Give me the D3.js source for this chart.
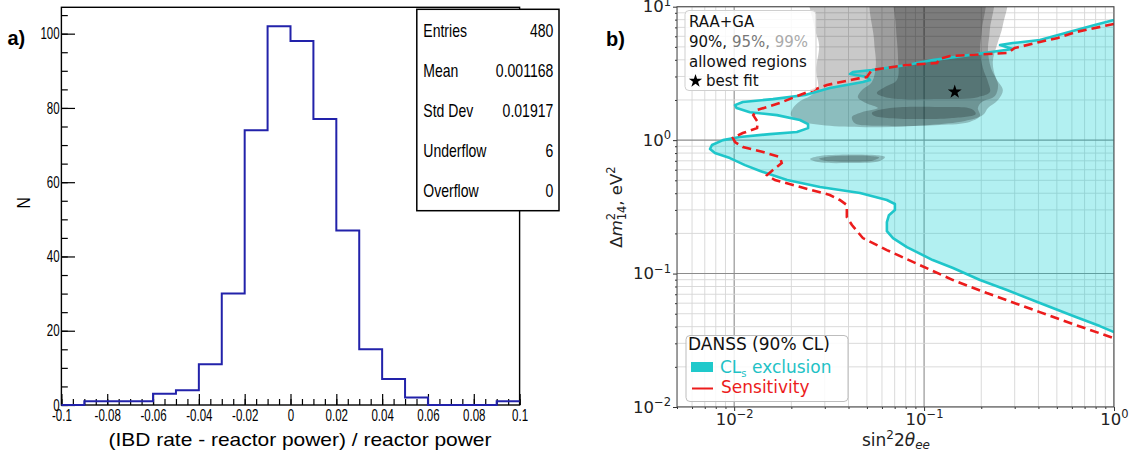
<!DOCTYPE html>
<html>
<head>
<meta charset="utf-8">
<script src="https://cdn.jsdelivr.net/npm/d3@7"></script>
<style>
body { margin: 0; background: #fff; }
svg { display: block; }
</style>
</head>
<body>
<div id="container"></div>
<script>
// ---------- panel a data (histogram)
let binLow = [-0.1, -0.09, -0.08, -0.07, -0.06, -0.05, -0.04, -0.03, -0.02, -0.01,
    0, 0.01, 0.02, 0.03, 0.04, 0.05, 0.06, 0.07, 0.08, 0.09];
let binCounts = [0, 1, 1, 1, 3, 4, 11, 30, 74, 102, 98, 77, 47, 15, 7, 2, 0, 0, 0, 1];
let histXTicks = [-0.1, -0.08, -0.06, -0.04, -0.02, 0, 0.02, 0.04, 0.06, 0.08, 0.1];
let histXLabels = ['-0.1', '-0.08', '-0.06', '-0.04', '-0.02', '0', '0.02', '0.04', '0.06', '0.08', '0.1'];
let histYTicks = [0, 20, 40, 60, 80, 100];
let statNames = ['Entries', 'Mean', 'Std Dev', 'Underflow', 'Overflow'];
let statValues = ['480', '0.001168', '0.01917', '6', '0'];

// ---------- panel b data (sin^2 2theta, dm^2)
let clsContour = [[1.0, 7.95], [0.792, 7.29], [0.407, 5.63], [0.293, 5.34], [0.251, 5.16], [0.293, 4.82],
    [0.111, 3.98], [0.0812, 3.66], [0.0531, 3.35], [0.0422, 3.24], [0.0407, 3.13], [0.050, 2.97],
    [0.0519, 2.82], [0.0476, 2.73], [0.0319, 2.46], [0.0236, 2.18], [0.016, 2.03], [0.0111, 1.93],
    [0.0101, 1.83], [0.0103, 1.74], [0.0121, 1.62], [0.0168, 1.54], [0.0222, 1.415], [0.0245, 1.32],
    [0.0245, 1.23], [0.0214, 1.15], [0.0154, 1.11], [0.0107, 1.055], [0.00873, 1.0], [0.00764, 0.919],
    [0.00746, 0.858], [0.00792, 0.80], [0.0095, 0.734], [0.0114, 0.65], [0.0137, 0.587], [0.019, 0.502],
    [0.0283, 0.445], [0.046, 0.401], [0.0637, 0.356], [0.0702, 0.332], [0.0702, 0.299], [0.0653, 0.274],
    [0.0637, 0.243], [0.0637, 0.208], [0.0686, 0.1845], [0.0812, 0.158], [0.111, 0.1262], [0.142, 0.110],
    [0.197, 0.0894], [0.273, 0.0752], [0.407, 0.0601], [0.63, 0.0472], [0.842, 0.0404], [1.0, 0.0364]];

let sensContour = [[1.0, 7.42], [0.63, 6.46], [0.506, 5.83], [0.407, 5.44], [0.30, 4.90], [0.276, 4.50],
    [0.137, 4.27], [0.12, 4.06], [0.117, 3.78], [0.0812, 3.66], [0.0531, 3.35], [0.05, 2.97], [0.046, 2.92],
    [0.0308, 2.59], [0.0222, 2.18], [0.0174, 1.90], [0.0132, 1.68], [0.0126, 1.54], [0.0133, 1.37],
    [0.0132, 1.23], [0.0111, 1.13], [0.00985, 1.04], [0.0101, 0.968], [0.0111, 0.888], [0.0142, 0.814],
    [0.0174, 0.747], [0.0178, 0.673], [0.016, 0.597], [0.0149, 0.547], [0.0164, 0.502], [0.0204, 0.461],
    [0.0319, 0.388], [0.036, 0.356], [0.0392, 0.326], [0.0392, 0.265], [0.0417, 0.231], [0.0476, 0.1845],
    [0.0637, 0.150], [0.095, 0.1158], [0.142, 0.0894], [0.214, 0.0714], [0.407, 0.0514], [0.63, 0.0411],
    [1.0, 0.0328]];

let region99 = [
    [[0.0257, 14], [0.266, 14], [0.26, 7.29], [0.242, 5.16], [0.23, 3.85], [0.239, 2.92], [0.26, 2.37],
     [0.245, 2.0], [0.217, 1.74], [0.204, 1.54], [0.164, 1.39], [0.107, 1.30], [0.0585, 1.25], [0.0319, 1.28],
     [0.0222, 1.39], [0.0199, 1.54], [0.0204, 1.74], [0.0222, 1.96], [0.0251, 2.14], [0.0276, 2.46],
     [0.027, 3.35], [0.028, 5.16], [0.0263, 7.29]],
    [[0.0251, 0.722], [0.0283, 0.760], [0.0388, 0.780], [0.0551, 0.773], [0.0622, 0.747], [0.0585, 0.697],
     [0.0388, 0.673], [0.0276, 0.685]]
];
let region95 = [
    [[0.0545, 14], [0.225, 14], [0.222, 6.69], [0.217, 4.74], [0.225, 3.47], [0.245, 2.63], [0.236, 2.14],
     [0.2015, 1.93], [0.192, 1.74], [0.197, 1.52], [0.174, 1.37], [0.121, 1.30], [0.0585, 1.28], [0.0432, 1.34],
     [0.0417, 1.49], [0.047, 1.62], [0.0571, 1.74], [0.0494, 1.90], [0.0448, 2.10], [0.047, 2.37],
     [0.0531, 2.73], [0.0557, 3.66], [0.0545, 5.63]],
    [[0.028, 0.725], [0.031, 0.752], [0.0388, 0.765], [0.052, 0.76], [0.058, 0.74], [0.054, 0.705],
     [0.0388, 0.69], [0.030, 0.70]]
];
let region90 = [
    [[0.0719, 14], [0.204, 14], [0.2015, 6.69], [0.197, 4.74], [0.204, 3.47], [0.217, 2.73], [0.222, 2.29],
     [0.192, 2.10], [0.121, 2.03], [0.066, 2.07], [0.0564, 2.25], [0.0622, 2.50], [0.0719, 2.82],
     [0.0728, 4.35], [0.071, 7.29]],
    [[0.0531, 1.60], [0.066, 1.74], [0.121, 1.77], [0.178, 1.71], [0.187, 1.57], [0.137, 1.46],
     [0.066, 1.46], [0.0545, 1.52]]
];
let bestFit = [0.145, 2.3];
let xDecades = [0.01, 0.1, 1];
let xDecadeExp = ['\u22122', '\u22121', '0'];
let yDecades = [0.01, 0.1, 1, 10];
let yDecadeExp = ['\u22122', '\u22121', '0', '1'];

let width = 1137;
let height = 455;
let rootFont = 'Liberation Sans, Arial, Helvetica, sans-serif';
let mplFont = 'DejaVu Sans, sans-serif';

let svg = d3.select('#container')
    .append('svg')
    .attr('width', width)
    .attr('height', height);

// ================= panel a =================
let xA = d3.scaleLinear().domain([-0.1, 0.1]).range([61.4, 519.6]);
let yA = d3.scaleLinear().domain([0, 107.1]).range([405, 7.3]);

function narrow(g, x, y, str, size, sx, anchor) {
    return g.append('text')
        .attr('transform', `translate(${x},${y}) scale(${sx},1)`)
        .attr('text-anchor', anchor || 'start')
        .attr('font-family', rootFont)
        .attr('font-size', size)
        .attr('fill', '#000')
        .text(str);
}

let pa = svg.append('g');

// minor / major ticks (ROOT style, pointing inside)
pa.append('g').attr('transform', 'translate(0,405)')
    .call(d3.axisBottom(xA).tickValues(d3.range(-0.1, 0.1001, 0.005)).tickSize(-6).tickFormat(''))
    .call(g => g.select('.domain').remove());
let axA = pa.append('g').attr('transform', 'translate(0,405)')
    .call(d3.axisBottom(xA).tickValues(histXTicks).tickSize(-11).tickPadding(5)
        .tickFormat((d, i) => histXLabels[i]));
axA.select('.domain').remove();
axA.selectAll('text')
    .attr('font-family', rootFont).attr('font-size', 16).attr('fill', '#000')
    .attr('transform', 'scale(0.72,1)');

pa.append('g').attr('transform', 'translate(61.4,0)')
    .call(d3.axisLeft(yA).tickValues(d3.range(0, 106, 5)).tickSize(-6.4).tickFormat(''))
    .call(g => g.select('.domain').remove());
let ayA = pa.append('g').attr('transform', 'translate(61.4,0)')
    .call(d3.axisLeft(yA).tickValues(histYTicks).tickSize(-13.6).tickPadding(2.4));
ayA.select('.domain').remove();
ayA.selectAll('text')
    .attr('font-family', rootFont).attr('font-size', 16).attr('fill', '#000')
    .attr('transform', 'scale(0.72,1)');
pa.selectAll('.tick line').attr('stroke', '#000').attr('stroke-width', 1.2);

// frame
pa.append('rect')
    .attr('x', 61.4).attr('y', 7.3)
    .attr('width', 519.6 - 61.4).attr('height', 405 - 7.3)
    .attr('fill', 'none').attr('stroke', '#000').attr('stroke-width', 1.4);

// histogram outline
let histPts = binLow.map((x, i) => [x, binCounts[i]]).concat([[0.1, binCounts[binCounts.length - 1]]]);
pa.append('path')
    .datum(histPts)
    .attr('d', d3.line().x(d => xA(d[0])).y(d => yA(d[1])).curve(d3.curveStepAfter))
    .attr('fill', 'none')
    .attr('stroke', '#2222aa')
    .attr('stroke-width', 2);

// stats box
pa.append('rect')
    .attr('x', 416.8).attr('y', 9.3)
    .attr('width', 559 - 416.8).attr('height', 210.7 - 9.3)
    .attr('fill', '#fff').attr('stroke', '#000').attr('stroke-width', 1.5);
statNames.forEach((name, i) => {
    let y = 36.5 + i * 40.2;
    narrow(pa, 423.3, y, name, 18, 0.78, 'start');
    narrow(pa, 553.3, y, statValues[i], 18, 0.78, 'end');
});

// titles
pa.append('text')
    .attr('x', 300).attr('y', 446)
    .attr('text-anchor', 'middle')
    .attr('font-family', rootFont).attr('font-size', 18.6)
    .attr('textLength', 383).attr('lengthAdjust', 'spacingAndGlyphs')
    .text('(IBD rate - reactor power) / reactor power');
pa.append('text')
    .attr('transform', 'translate(30,203) rotate(-90) scale(0.82,1)')
    .attr('text-anchor', 'middle')
    .attr('font-family', rootFont).attr('font-size', 19)
    .text('N');
pa.append('text')
    .attr('x', 7.5).attr('y', 45)
    .attr('font-family', rootFont).attr('font-size', 20).attr('font-weight', 'bold')
    .text('a)');

// ================= panel b =================
let xB = d3.scaleLog().domain([0.005, 1]).range([677, 1114]);
let yB = d3.scaleLog().domain([0.01, 10]).range([407, 6.7]);
let pb = svg.append('g');

svg.append('clipPath').attr('id', 'clipB')
    .append('rect').attr('x', 677).attr('y', 6.7).attr('width', 1114 - 677).attr('height', 407 - 6.7);
let plot = pb.append('g').attr('clip-path', 'url(#clipB)');

// grid
let isDecade = v => Math.abs(Math.log10(v) - Math.round(Math.log10(v))) < 1e-6;
plot.selectAll('.xgrid').data(xB.ticks()).enter().append('line')
    .attr('x1', d => xB(d)).attr('x2', d => xB(d)).attr('y1', 6.7).attr('y2', 407)
    .attr('stroke', d => isDecade(d) ? '#8c8c8c' : '#d6d6d6')
    .attr('stroke-width', d => isDecade(d) ? 1.1 : 0.9);
plot.selectAll('.ygrid').data(yB.ticks()).enter().append('line')
    .attr('y1', d => yB(d)).attr('y2', d => yB(d)).attr('x1', 677).attr('x2', 1114)
    .attr('stroke', d => isDecade(d) ? '#8c8c8c' : '#d6d6d6')
    .attr('stroke-width', d => isDecade(d) ? 1.1 : 0.9);

let lineB = d3.line().x(d => xB(d[0])).y(d => yB(d[1]));
let blob = d3.line().x(d => xB(d[0])).y(d => yB(d[1])).curve(d3.curveCatmullRomClosed.alpha(0.5));

// CLs exclusion fill
plot.append('path')
    .attr('d', lineB(clsContour) + 'Z')
    .attr('fill', 'rgb(0,206,209)').attr('fill-opacity', 0.3);

// RAA+GA allowed regions
[region99, region95, region90].forEach(level => {
    plot.selectAll(null).data(level).enter().append('path')
        .attr('d', d => blob(d))
        .attr('fill', '#000').attr('fill-opacity', 0.21);
});

plot.append('path')
    .attr('d', lineB(clsContour))
    .attr('fill', 'none').attr('stroke', '#1fc6ca').attr('stroke-width', 2.6)
    .attr('stroke-linejoin', 'round');
plot.append('path')
    .attr('d', lineB(sensContour))
    .attr('fill', 'none').attr('stroke', '#ec1c1c').attr('stroke-width', 2.6)
    .attr('stroke-dasharray', '9,5');

plot.append('path')
    .attr('transform', `translate(${xB(bestFit[0])},${yB(bestFit[1])})`)
    .attr('d', d3.symbol(d3.symbolStar).size(60)())
    .attr('fill', '#000');

// axes
function decadeLabels(sel, exps) {
    sel.selectAll('text').text(null).each(function (d, i) {
        let t = d3.select(this)
            .attr('font-family', mplFont).attr('font-size', 16.5).attr('fill', '#222');
        t.append('tspan').text('10');
        t.append('tspan').attr('font-size', 11.5).attr('dy', -6.5).text(exps[i]);
    });
}
pb.append('g').attr('transform', 'translate(0,407)')
    .call(d3.axisBottom(xB).tickValues(xB.ticks().filter(d => !isDecade(d))).tickSize(2).tickFormat(''))
    .call(g => g.select('.domain').remove());
let axB = pb.append('g').attr('transform', 'translate(0,407)')
    .call(d3.axisBottom(xB).tickValues(xDecades).tickSize(4).tickPadding(2).tickFormat(''));
axB.select('.domain').remove();
decadeLabels(axB, xDecadeExp);

pb.append('g').attr('transform', 'translate(677,0)')
    .call(d3.axisLeft(yB).tickValues(yB.ticks().filter(d => !isDecade(d))).tickSize(2).tickFormat(''))
    .call(g => g.select('.domain').remove());
let ayB = pb.append('g').attr('transform', 'translate(677,0)')
    .call(d3.axisLeft(yB).tickValues(yDecades).tickSize(4).tickPadding(2).tickFormat(''));
ayB.select('.domain').remove();
decadeLabels(ayB, yDecadeExp);
pb.selectAll('.tick line').attr('stroke', '#333');

pb.append('rect')
    .attr('x', 677).attr('y', 6.7).attr('width', 1114 - 677).attr('height', 407 - 6.7)
    .attr('fill', 'none').attr('stroke', '#444').attr('stroke-width', 1);

// axis labels
let xl = pb.append('text')
    .attr('x', 896).attr('y', 446).attr('text-anchor', 'middle')
    .attr('font-family', mplFont).attr('font-size', 17).attr('fill', '#222');
xl.append('tspan').text('sin');
xl.append('tspan').attr('font-size', 12).attr('dy', -7).text('2');
xl.append('tspan').attr('dy', 7).text('2');
xl.append('tspan').attr('font-style', 'italic').text('\u03b8');
xl.append('tspan').attr('font-style', 'italic').attr('font-size', 12).attr('dy', 3).text('ee');

let yl = pb.append('text')
    .attr('transform', 'translate(622,207) rotate(-90)').attr('text-anchor', 'middle')
    .attr('font-family', mplFont).attr('font-size', 16.5).attr('fill', '#222');
yl.append('tspan').text('\u0394');
yl.append('tspan').attr('font-style', 'italic').text('m');
yl.append('tspan').attr('font-size', 11.5).attr('dy', -7).text('2');
yl.append('tspan').attr('font-size', 11.5).attr('dx', -7.3).attr('dy', 11).text('14');
yl.append('tspan').attr('dy', -4).text(', eV');
yl.append('tspan').attr('font-size', 11.5).attr('dy', -7).text('2');

pb.append('text')
    .attr('x', 606).attr('y', 46)
    .attr('font-family', rootFont).attr('font-size', 20).attr('font-weight', 'bold')
    .text('b)');

// legend: allowed regions
pb.append('rect')
    .attr('x', 685).attr('y', 10.5).attr('width', 131).attr('height', 80).attr('rx', 4)
    .attr('fill', '#fff').attr('fill-opacity', 0.85).attr('stroke', '#cfcfcf');
let lg1 = pb.append('g').attr('font-family', mplFont).attr('font-size', 15).attr('fill', '#111');
lg1.append('text').attr('x', 689).attr('y', 27.3).text('RAA+GA');
let pct = lg1.append('text').attr('x', 689).attr('y', 46.7);
pct.append('tspan').text('90%, ');
pct.append('tspan').attr('fill', '#777').text('95%, ');
pct.append('tspan').attr('fill', '#aaa').text('99%');
lg1.append('text').attr('x', 689).attr('y', 66.5).text('allowed regions');
lg1.append('path')
    .attr('transform', 'translate(695.5,81)')
    .attr('d', d3.symbol(d3.symbolStar).size(55)())
    .attr('fill', '#000');
lg1.append('text').attr('x', 706).attr('y', 86).text('best fit');

// legend: DANSS
pb.append('rect')
    .attr('x', 686).attr('y', 335.5).attr('width', 162).attr('height', 66).attr('rx', 4)
    .attr('fill', '#fff').attr('fill-opacity', 0.85).attr('stroke', '#bdbdbd');
let lg2 = pb.append('g').attr('font-family', mplFont).attr('font-size', 17);
lg2.append('text').attr('x', 688).attr('y', 350).attr('fill', '#111').text('DANSS (90% CL)');
lg2.append('rect').attr('x', 691).attr('y', 362).attr('width', 22).attr('height', 10).attr('fill', '#1fc9cb');
let cls = lg2.append('text').attr('x', 720).attr('y', 373).attr('fill', '#1fc2c6');
cls.append('tspan').text('CL');
cls.append('tspan').attr('font-size', 10).attr('dy', 4).text('s');
cls.append('tspan').attr('dy', -4).text(' exclusion');
lg2.append('line').attr('x1', 692).attr('x2', 713).attr('y1', 388.5).attr('y2', 388.5)
    .attr('stroke', '#ec1c1c').attr('stroke-width', 2);
lg2.append('text').attr('x', 721).attr('y', 393).attr('fill', '#ec1c1c').text('Sensitivity');
</script>
</body>
</html>
